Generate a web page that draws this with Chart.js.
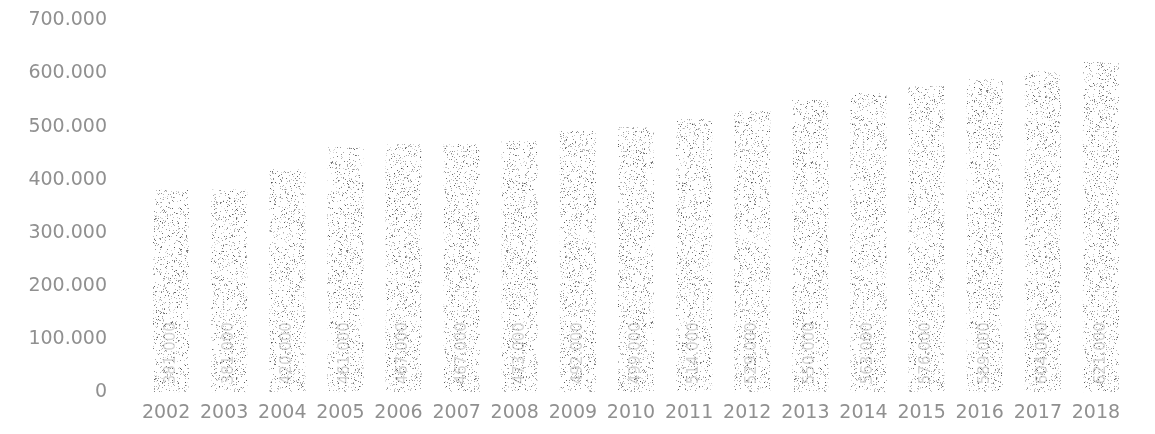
<!DOCTYPE html>
<html>
<head>
<meta charset="utf-8">
<script src="https://cdn.jsdelivr.net/npm/chart.js@4/dist/chart.umd.min.js"></script>
<style>
  html, body { margin: 0; padding: 0; background: #ffffff; overflow: hidden; }
  #wrap { width: 1155px; height: 434px; position: relative; overflow: hidden; }
  #chart { position: absolute; left: 0; top: -18px; }
</style>
</head>
<body>
<div id="wrap"><canvas id="chart" width="1155" height="452"></canvas></div>
<script>
// Years on the horizontal axis
const years = ['2002','2003','2004','2005','2006','2007','2008','2009','2010',
               '2011','2012','2013','2014','2015','2016','2017','2018'];
// Yearly totals
const totals = [381000, 381000, 420000, 461000, 467000, 467000, 473000, 492000, 499000,
                514000, 529000, 550000, 563000, 576000, 589000, 604000, 621000];
// Vertical axis ticks
const yTicks = [0, 100000, 200000, 300000, 400000, 500000, 600000, 700000];

// Number formatting with a dot as thousands separator
function fmt(v) {
  return Math.round(v).toString().replace(/\B(?=(\d{3})+(?!\d))/g, '.');
}

// Dotted, print-like fill for the bars
function makeStipple() {
  const c = document.createElement('canvas');
  c.width = 160; c.height = 160;
  const g = c.getContext('2d');
  let s = 12345;
  const next = () => { s = (s * 1103515245 + 12345) & 0x7fffffff; return s / 0x7fffffff; };
  for (let i = 0; i < 3300; i++) {
    const x = Math.floor(next() * 160), y = Math.floor(next() * 160);
    const shade = Math.floor(50 + next() * 150);
    g.fillStyle = 'rgba(' + shade + ',' + shade + ',' + shade + ',' + (0.4 + next() * 0.5).toFixed(2) + ')';
    g.fillRect(x, y, 1, 1);
  }
  return document.getElementById('chart').getContext('2d').createPattern(c, 'repeat');
}

// Rotated value labels near the base of each bar
const barLabels = {
  id: 'barLabels',
  afterDatasetsDraw(chart) {
    const ctx = chart.ctx;
    const meta = chart.getDatasetMeta(0);
    const yScale = chart.scales.y;
    ctx.save();
    ctx.font = '15px "DejaVu Sans", sans-serif';
    ctx.fillStyle = 'rgba(150,150,150,0.4)';
    ctx.textAlign = 'left';
    ctx.textBaseline = 'middle';
    meta.data.forEach((bar, i) => {
      ctx.save();
      ctx.translate(bar.x, yScale.getPixelForValue(0) - 8);
      ctx.rotate(-Math.PI / 2);
      ctx.fillText(fmt(totals[i]), 0, 0);
      ctx.restore();
    });
    ctx.restore();
  }
};

const fill = makeStipple();
const tickFont = { family: '"DejaVu Sans", sans-serif', size: 19 };

new Chart(document.getElementById('chart'), {
  type: 'bar',
  data: {
    labels: years,
    datasets: [{
      data: totals,
      backgroundColor: fill,
      borderWidth: 0,
      categoryPercentage: 0.62,
      barPercentage: 1.0
    }]
  },
  options: {
    responsive: false,
    animation: false,
    devicePixelRatio: 1,
    layout: { padding: { top: 9, right: 25, bottom: 9, left: 0 } },
    plugins: { legend: { display: false }, tooltip: { enabled: false } },
    scales: {
      x: {
        grid: { display: false },
        border: { display: false },
        ticks: {
          color: '#909090',
          font: tickFont,
          padding: 1,
          labelOffset: -5,
          maxRotation: 0,
          autoSkip: false
        }
      },
      y: {
        min: 0,
        max: 700000,
        afterFit(scale) { scale.width = 142; },
        afterBuildTicks(scale) { scale.ticks = yTicks.map(v => ({ value: v })); },
        grid: { display: false },
        border: { display: false },
        ticks: {
          color: '#909090',
          font: tickFont,
          padding: 27,
          callback: (v) => fmt(v)
        }
      }
    }
  },
  plugins: [barLabels]
});
</script>
</body>
</html>
